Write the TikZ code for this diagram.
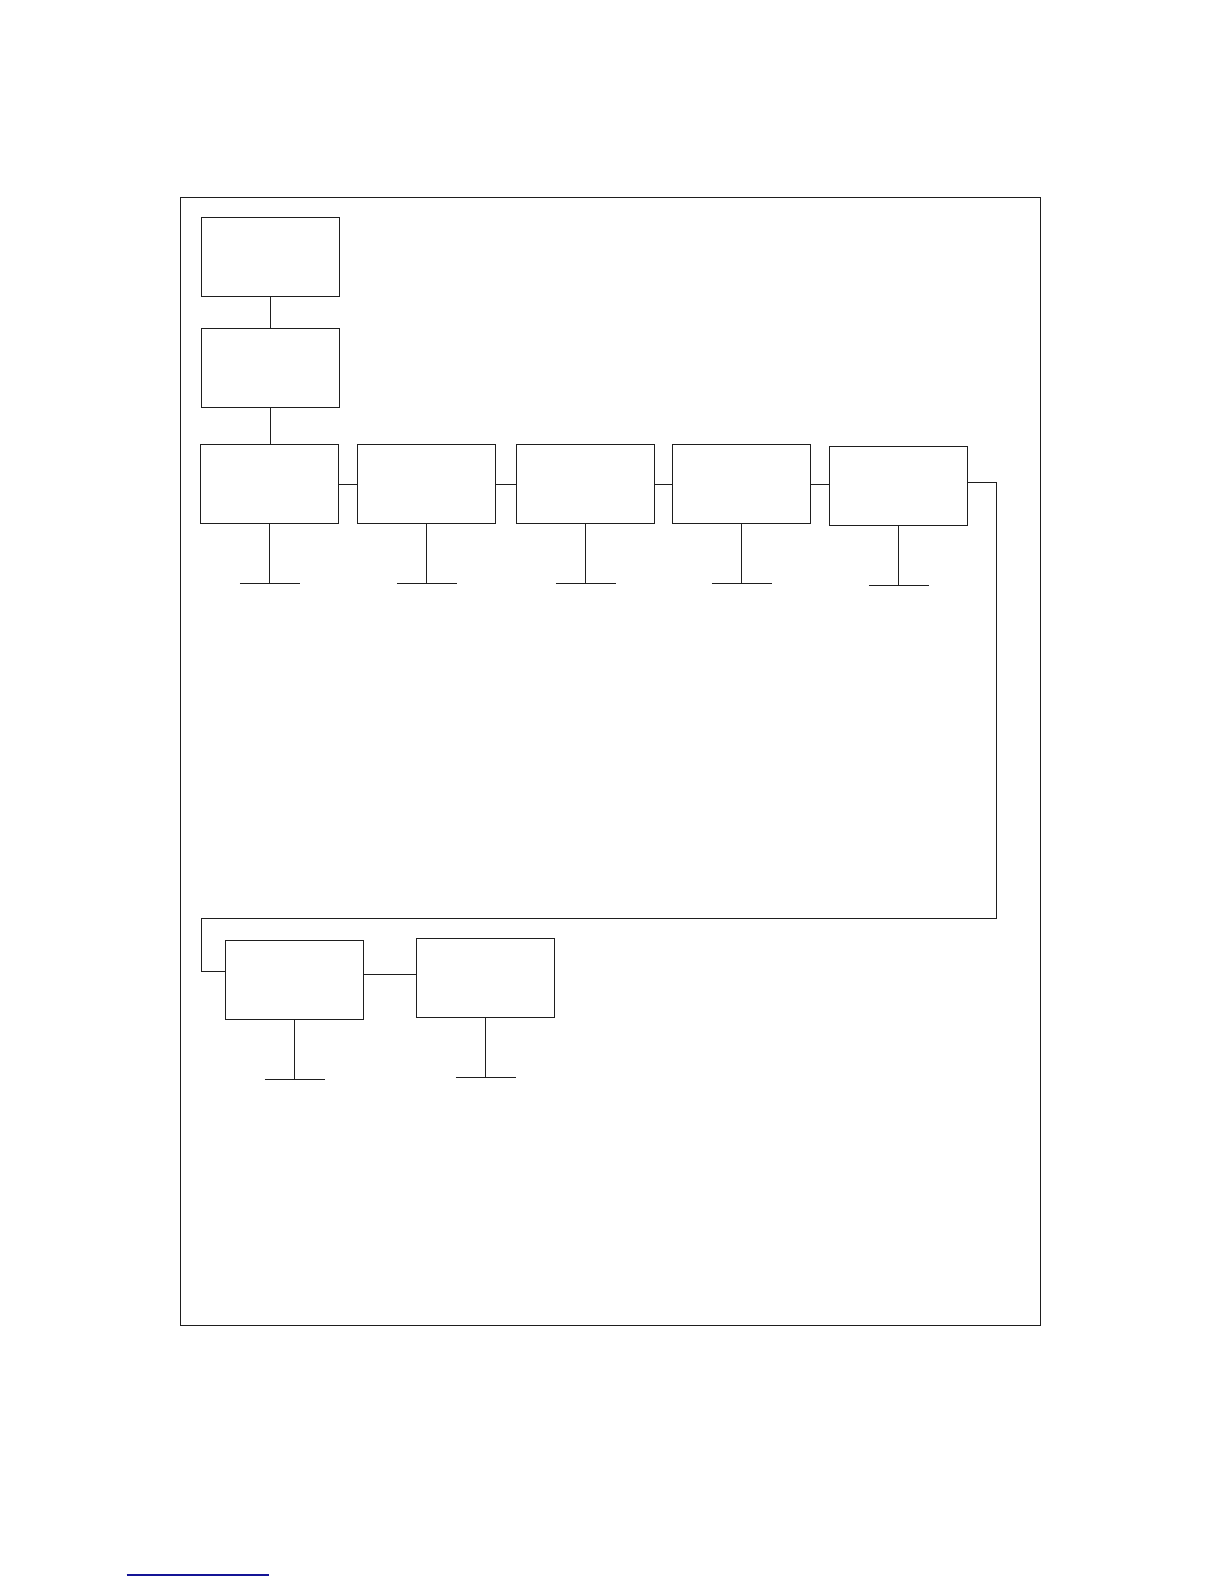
\documentclass[tikz,border=0pt]{standalone}
\begin{document}
\begin{tikzpicture}[x=1pt,y=-1pt,
  line width=1pt, draw={rgb,255:red,30;green,30;blue,30},
  blk/.style={draw, rectangle, inner sep=0pt, anchor=north west,
    minimum width=138pt, minimum height=79pt},
  wire/.style={draw, line width=1pt}]
\useasboundingbox (0,0) rectangle (1224,1584);
% outer frame
\draw (180.7,197.3) rectangle (1040.3,1325);
% boxes
\node[blk] (a)  at (201.3,217.3) {};
\node[blk] (b)  at (201.3,328.3) {};
\node[blk] (b1) at (200.3,444.3) {};
\node[blk] (b2) at (357.3,444.3) {};
\node[blk] (b3) at (516.3,444.3) {};
\node[blk] (b4) at (672.3,444.3) {};
\node[blk] (b5) at (829.3,446.3) {};
\node[blk] (c1) at (225.3,940.3) {};
\node[blk] (c2) at (416.3,938.3) {};
% vertical connectors
\draw[wire] (a.south) -- (b.north);
\draw[wire] (b.south) -- (b.south |- b1.north);
% horizontal chain
\draw[wire] (b1.east) -- (b2.west);
\draw[wire] (b2.east) -- (b3.west);
\draw[wire] (b3.east) -- (b4.west);
\draw[wire] (b4.east) -- (b4.east -| b5.west);
% return route
\coordinate (r1) at (996.5,918.3);
\coordinate (r2) at (201.3,918.3);
\coordinate (r3) at (201.3,971);
\draw[wire] ([yshift=3.5pt]b5.east) -| (r1) -- (r2) -- (r3) -- (r3 -| c1.west);
\draw[wire] ([yshift=6pt]c1.east) -- ([yshift=6pt]c1.east -| c2.west);
% ground stems
\foreach \n in {b1,b2,b3,b4,b5,c1,c2}{
  \draw[wire] (\n.south) -- ++(0,59) coordinate (\n-g);
  \draw[wire] ([xshift=-30pt]\n-g) -- ([xshift=30pt]\n-g);
}
% blue underline at bottom
\draw[line width=1.3pt, draw={rgb,255:red,20;green,20;blue,150}] (126.7,1575) -- (269,1575);
\end{tikzpicture}
\end{document}
